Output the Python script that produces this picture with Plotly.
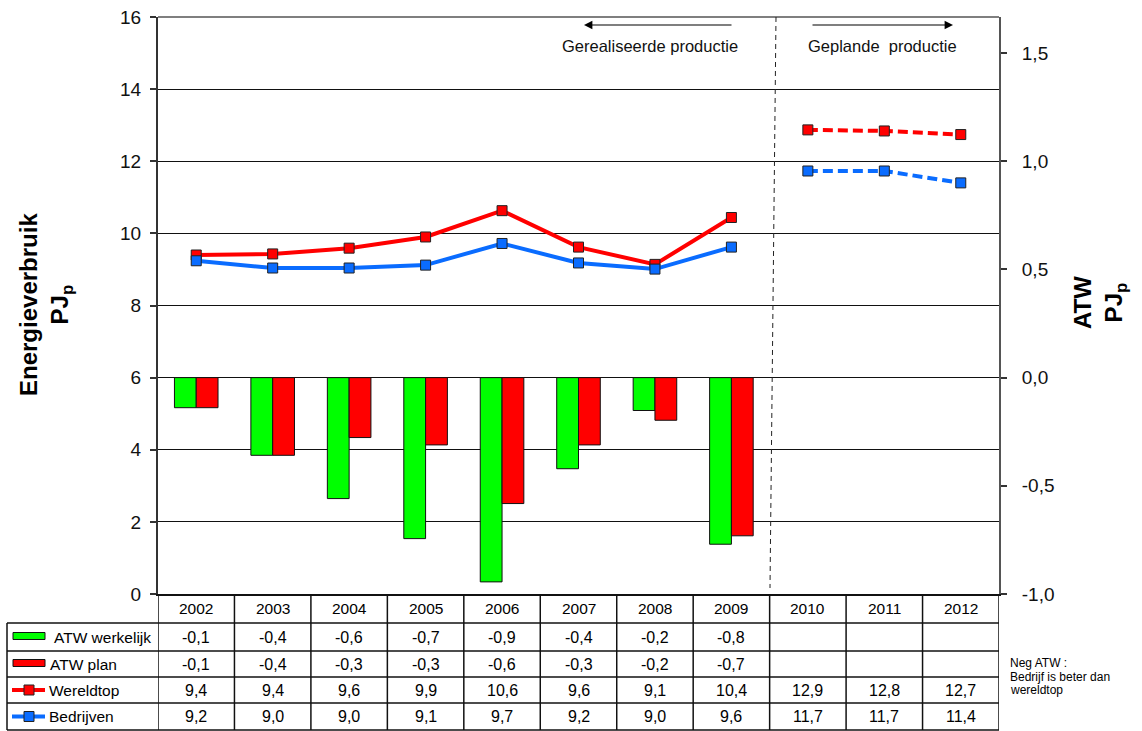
import plotly.graph_objects as go

# ---- data ----
years = ["2002", "2003", "2004", "2005", "2006", "2007", "2008", "2009", "2010", "2011", "2012"]
n_real = 8  # realised years (2002-2009); the rest is planned

atw_werkelijk = [-0.139, -0.359, -0.559, -0.744, -0.944, -0.421, -0.152, -0.770]
atw_plan = [-0.139, -0.359, -0.277, -0.311, -0.582, -0.311, -0.197, -0.731]
wereldtop = [9.40, 9.43, 9.59, 9.90, 10.63, 9.62, 9.14, 10.44, 12.87, 12.84, 12.74]
bedrijven = [9.24, 9.04, 9.04, 9.12, 9.72, 9.18, 9.01, 9.62, 11.73, 11.73, 11.40]

left_ticks = [0, 2, 4, 6, 8, 10, 12, 14, 16]
right_ticks = [-1.0, -0.5, 0.0, 0.5, 1.0, 1.5]

row_names = ["ATW werkelijk", "ATW plan", "Wereldtop", "Bedrijven"]

# ---- styling ----
FONT = "Liberation Sans, Arial, sans-serif"
GREEN = "#00FF00"
RED = "#FF0000"
BLUE = "#0A6CFF"
W, H = 1142, 731
PL, PR, PT, PB = 158, 999, 17, 594  # plot area in pixels


def px_x(px):
    return (px - PL) / (PR - PL)


def px_y(py):
    return (PB - py) / (PB - PT)


def fmt(v):
    return f"{v:.1f}".replace(".", ",")


fig = go.Figure()

# ATW bars on the secondary axis
fig.add_trace(go.Bar(x=years[:n_real], y=atw_werkelijk, name="ATW werkelijk", yaxis="y2",
                     marker=dict(color=GREEN, line=dict(color="#111111", width=1))))
fig.add_trace(go.Bar(x=years[:n_real], y=atw_plan, name="ATW plan", yaxis="y2",
                     marker=dict(color=RED, line=dict(color="#111111", width=1))))

# Energy lines: solid for realised, dashed for planned
for vals, col, nm in [(wereldtop, RED, "Wereldtop"), (bedrijven, BLUE, "Bedrijven")]:
    mk = dict(symbol="square", size=10, color=col, line=dict(color="#222222", width=1))
    fig.add_trace(go.Scatter(x=years[:n_real], y=vals[:n_real], mode="lines+markers", name=nm,
                             line=dict(color=col, width=4), marker=mk))
    fig.add_trace(go.Scatter(x=years[n_real:], y=vals[n_real:], mode="lines+markers", name=nm,
                             line=dict(color=col, width=4, dash="10px,5px"), marker=mk))

shapes = []
annotations = []

# top border of plot area
shapes.append(dict(type="line", xref="paper", yref="paper", x0=0, x1=1, y0=1, y1=1,
                   line=dict(color="#7f7f7f", width=2), layer="above"))

# dashed separator between realised and planned production
shapes.append(dict(type="line", xref="paper", yref="paper", x0=px_x(776), y0=px_y(17),
                   x1=px_x(770), y1=px_y(588), line=dict(color="#222222", width=1, dash="5px,4px"),
                   layer="above"))

# arrows with captions
annotations.append(dict(xref="paper", yref="paper", x=px_x(584), y=px_y(25), ax=149, ay=0,
                        axref="pixel", ayref="pixel", text="", showarrow=True, arrowhead=2,
                        arrowsize=1.4, arrowwidth=1.2, arrowcolor="#000000", standoff=0))
annotations.append(dict(xref="paper", yref="paper", x=px_x(953), y=px_y(25), ax=-142, ay=0,
                        axref="pixel", ayref="pixel", text="", showarrow=True, arrowhead=2,
                        arrowsize=1.4, arrowwidth=1.2, arrowcolor="#000000", standoff=0))
annotations.append(dict(xref="paper", yref="paper", x=px_x(650), y=px_y(46), text="Gerealiseerde productie",
                        showarrow=False, font=dict(size=16.5, color="#111111"), xanchor="center", yanchor="middle"))
annotations.append(dict(xref="paper", yref="paper", x=px_x(882), y=px_y(46), text="Geplande  productie",
                        showarrow=False, font=dict(size=16.5, color="#111111"), xanchor="center", yanchor="middle"))

# axis titles
annotations.append(dict(xref="paper", yref="paper", x=px_x(46), y=px_y(305), textangle=-90,
                        text="<b>Energieverbruik<br>PJ<sub>p</sub></b>", showarrow=False,
                        font=dict(size=24, color="#000000"), xanchor="center", yanchor="middle"))
annotations.append(dict(xref="paper", yref="paper", x=px_x(1100), y=px_y(303), textangle=-90,
                        text="<b>ATW<br>PJ<sub>p</sub></b>", showarrow=False,
                        font=dict(size=24, color="#000000"), xanchor="center", yanchor="middle"))

# ---- data table under the chart ----
row_edges = [594, 623, 651, 677, 703, 730]
TL = dict(color="#111111", width=1.5)
for ye in row_edges[1:]:
    shapes.append(dict(type="line", xref="paper", yref="paper", x0=px_x(7), x1=1,
                       y0=px_y(ye), y1=px_y(ye), line=TL))
for k in range(len(years) + 1):
    shapes.append(dict(type="line", xref="x", yref="paper", x0=k - 0.5, x1=k - 0.5,
                       y0=px_y(594), y1=px_y(730), line=TL))
shapes.append(dict(type="line", xref="paper", yref="paper", x0=px_x(7), x1=px_x(7),
                   y0=px_y(623), y1=px_y(730), line=TL))


def row_mid(r):
    return px_y((row_edges[r] + row_edges[r + 1]) / 2)


# header with years (positioned by category index on the x axis)
for j, yr in enumerate(years):
    annotations.append(dict(xref="x", yref="paper", x=j, y=row_mid(0), text=yr, showarrow=False,
                            font=dict(size=15.5, color="#000000"), xanchor="center", yanchor="middle"))

series_rows = [atw_werkelijk, atw_plan, wereldtop, bedrijven]
for r, vals in enumerate(series_rows, start=1):
    for j, v in enumerate(vals):
        annotations.append(dict(xref="x", yref="paper", x=j, y=row_mid(r), text=fmt(v),
                                showarrow=False, font=dict(size=16, color="#000000"),
                                xanchor="center", yanchor="middle"))

# legend keys in the first column
label_x = [52, 48, 47, 47]
for r, name in enumerate(row_names, start=1):
    annotations.append(dict(xref="paper", yref="paper", x=px_x(label_x[r - 1]), y=row_mid(r), text=name,
                            showarrow=False, font=dict(size=15.5, color="#000000"),
                            xanchor="left", yanchor="middle"))

for r, col in [(1, GREEN), (2, RED)]:
    yc = (row_edges[r] + row_edges[r + 1]) / 2 - 1
    shapes.append(dict(type="rect", xref="paper", yref="paper", x0=px_x(13), x1=px_x(45),
                       y0=px_y(yc - 3.5), y1=px_y(yc + 3.5), fillcolor=col,
                       line=dict(color="#111111", width=1)))
for r, col in [(3, RED), (4, BLUE)]:
    yc = (row_edges[r] + row_edges[r + 1]) / 2
    shapes.append(dict(type="line", xref="paper", yref="paper", x0=px_x(12), x1=px_x(45),
                       y0=px_y(yc), y1=px_y(yc), line=dict(color=col, width=4)))
    shapes.append(dict(type="rect", xref="paper", yref="paper", x0=px_x(24), x1=px_x(34),
                       y0=px_y(yc - 5), y1=px_y(yc + 5), fillcolor=col,
                       line=dict(color="#222222", width=1)))

# note beside the table
for txt, yy in [("Neg ATW :", 663), ("Bedrijf is beter dan", 677), ("wereldtop", 690)]:
    annotations.append(dict(xref="paper", yref="paper", x=px_x(1008), y=px_y(yy), text=txt,
                            showarrow=False, font=dict(size=12, color="#000000"),
                            xanchor="left", yanchor="middle"))

fig.update_layout(
    width=W, height=H,
    margin=dict(l=PL, r=W - PR, t=PT, b=H - PB, pad=0, autoexpand=False),
    paper_bgcolor="white", plot_bgcolor="white",
    font=dict(family=FONT, color="#000000"),
    showlegend=False,
    barmode="group", bargap=0.43, bargroupgap=0,
    xaxis=dict(type="category", categoryorder="array", categoryarray=years,
               range=[-0.5, len(years) - 0.5], showticklabels=False, ticks="", automargin=False,
               showgrid=False, zeroline=False, showline=True, linecolor="#111111", linewidth=1.5),
    yaxis=dict(range=[0, 16], tickvals=left_ticks, ticktext=[str(t) for t in left_ticks],
               ticks="outside", ticklen=6, tickcolor="#333333", tickwidth=1.5, automargin=False,
               showgrid=True, gridcolor="#111111", gridwidth=1, zeroline=False,
               showline=True, linecolor="#333333", linewidth=2,
               tickfont=dict(size=19, color="#111111"), ticklabelstandoff=5),
    yaxis2=dict(range=[-1.0, 5 / 3], overlaying="y", side="right", automargin=False,
                tickvals=right_ticks, ticktext=[fmt(t) for t in right_ticks],
                ticks="outside", ticklen=6, tickcolor="#333333", tickwidth=1.5,
                showgrid=False, zeroline=False, showline=True, linecolor="#555555", linewidth=2,
                tickfont=dict(size=19, color="#111111"), ticklabelstandoff=11),
    shapes=shapes, annotations=annotations,
)

fig.write_html("out.html")
